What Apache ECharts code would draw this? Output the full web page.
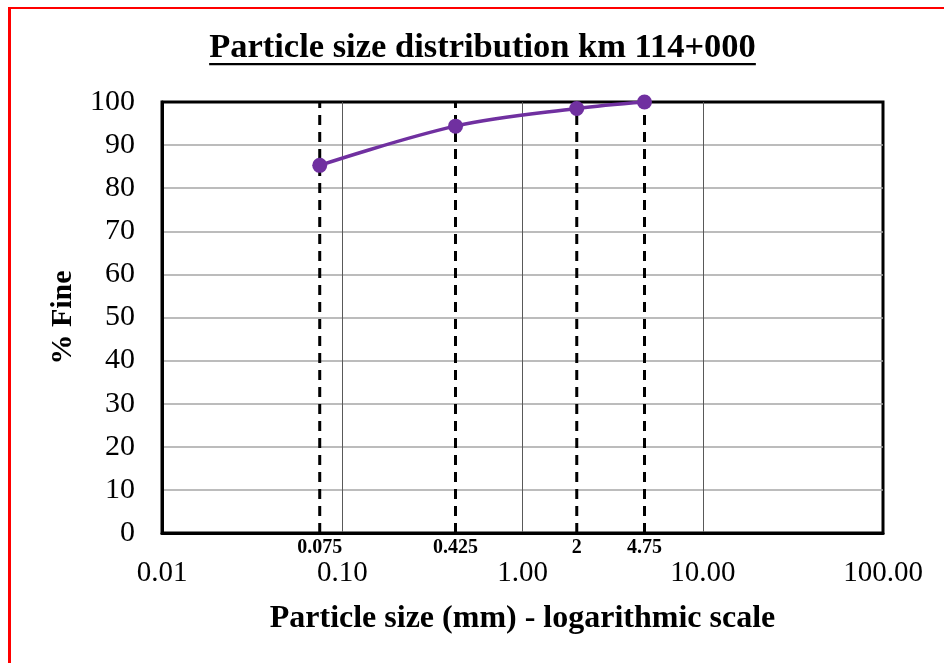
<!DOCTYPE html>
<html>
<head>
<meta charset="utf-8">
<script src="https://cdn.jsdelivr.net/npm/echarts@6/dist/echarts.min.js"></script>
<style>
  html, body { margin: 0; padding: 0; background: #fff; }
  #wrap { position: relative; width: 944px; height: 663px; overflow: hidden; }
  #frame { position: absolute; left: 8px; top: 7px; right: -10px; bottom: -10px;
           border-left: 3px solid #ff0000; border-top: 2px solid #ff0000; pointer-events: none; }
  #chart { position: absolute; left: 0; top: 0; width: 944px; height: 663px; }
</style>
</head>
<body>
<div id="wrap">
  <div id="frame"></div>
  <div id="chart"></div>
</div>
<script>
// ---- data ----
const titleText = 'Particle size distribution km 114+000';
const xAxisTitle = 'Particle size (mm) - logarithmic scale';
const yAxisTitle = '% Fine';
const sieveSizes = [0.075, 0.425, 2, 4.75];
const sieveLabels = ['0.075', '0.425', '2', '4.75'];
const percentFine = [85.3, 94.4, 98.5, 100];
const xMin = 0.01, xMax = 100;
const yMin = 0, yMax = 100, yStep = 10;

const FONT = '"Liberation Serif", "Times New Roman", serif';

const chart = echarts.init(document.getElementById('chart'), null, { renderer: 'canvas' });

// measure title width for underline
const cvs = document.createElement('canvas').getContext('2d');
const titleSize = 34.5;
cvs.font = 'bold ' + titleSize + 'px ' + FONT;
const titleW = cvs.measureText(titleText).width;
const titleCx = 482.5;

const dashedSeries = sieveSizes.map((s, i) => ({
  type: 'line',
  data: [
    { value: [s, yMin], label: { show: true, formatter: () => sieveLabels[i] } },
    { value: [s, yMax], label: { show: false } }
  ],
  symbol: 'rect', symbolSize: 0.1,
  itemStyle: { color: 'rgba(0,0,0,0)' },
  lineStyle: { color: '#000', width: 3, type: [10, 7] },
  label: { position: 'bottom', distance: 5, fontFamily: FONT, fontWeight: 'bold',
           fontSize: 20, color: '#000' },
  silent: true,
  z: 3
}));

const option = {
  backgroundColor: 'transparent',
  animation: false,
  graphic: [
    {
      type: 'text', left: titleCx - titleW / 2, top: 31,
      style: { text: titleText, font: 'bold ' + titleSize + 'px ' + FONT, fill: '#000' }
    },
    {
      type: 'rect', left: titleCx - titleW / 2, top: 63,
      shape: { width: titleW, height: 2.2 }, style: { fill: '#000' }
    }
  ],
  grid: { left: 162, top: 102, right: 61, bottom: 130, show: true,
          borderColor: '#000', borderWidth: 3, containLabel: false },
  xAxis: {
    type: 'log', logBase: 10, min: xMin, max: xMax,
    name: xAxisTitle, nameLocation: 'middle', nameGap: 70,
    nameTextStyle: { fontFamily: FONT, fontWeight: 'bold', fontSize: 32, color: '#000' },
    axisLine: { show: true, lineStyle: { color: '#000', width: 3 } },
    axisTick: { show: false },
    axisLabel: { margin: 26, fontFamily: FONT, fontSize: 29, color: '#000',
                 formatter: v => Number(v).toFixed(2) },
    splitLine: { show: true, showMinLine: false, showMaxLine: false,
                 lineStyle: { color: '#595959', width: 1 } },
    minorSplitLine: { show: false }
  },
  yAxis: {
    type: 'value', min: yMin, max: yMax, interval: yStep,
    name: yAxisTitle, nameLocation: 'middle', nameGap: 84, nameRotate: 90,
    nameTextStyle: { fontFamily: FONT, fontWeight: 'bold', fontSize: 30, color: '#000' },
    axisLine: { show: true, lineStyle: { color: '#000', width: 3 } },
    axisTick: { show: false },
    axisLabel: { margin: 27, fontFamily: FONT, fontSize: 30, color: '#000' },
    splitLine: { show: true, showMinLine: false, showMaxLine: false,
                 lineStyle: { color: '#a6a6a6', width: 1.5 } }
  },
  series: dashedSeries.concat([
    {
      type: 'line',
      data: sieveSizes.map((s, i) => [s, percentFine[i]]),
      smooth: 0.35,
      symbol: 'circle', symbolSize: 15,
      lineStyle: { color: '#7030a0', width: 3.5 },
      itemStyle: { color: '#7030a0' },
      z: 5
    }
  ])
};
chart.setOption(option);
</script>
</body>
</html>
